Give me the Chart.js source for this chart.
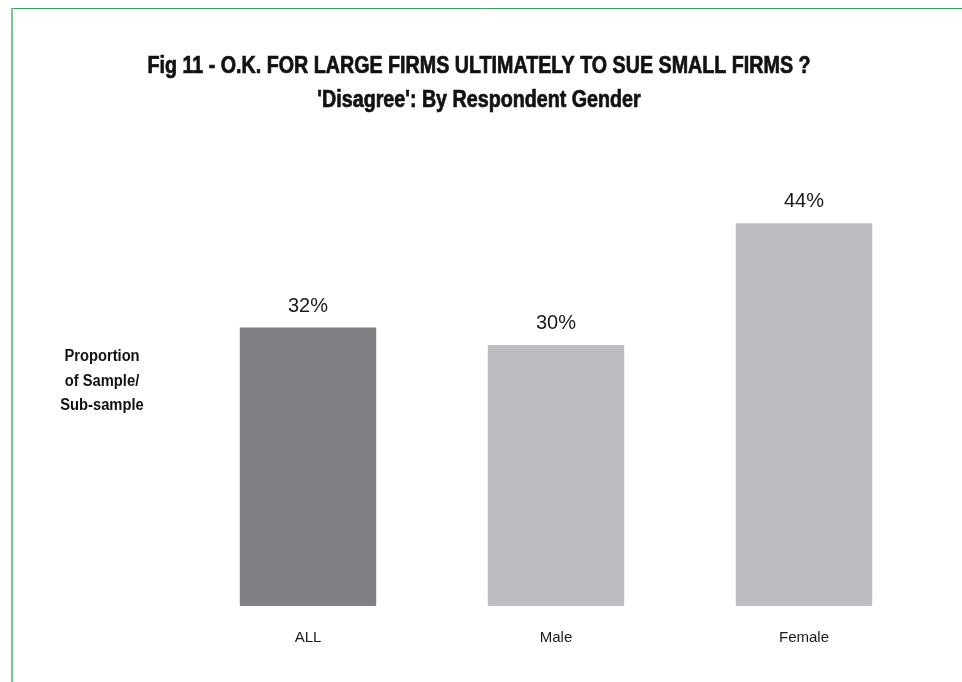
<!DOCTYPE html>
<html>
<head>
<meta charset="utf-8">
<title>Fig 11 - Disagree by Respondent Gender</title>
<script src="https://cdn.jsdelivr.net/npm/chart.js@4/dist/chart.umd.min.js"></script>
<style>
  html, body { margin:0; padding:0; background:#fff; }
  #wrap { position:relative; width:962px; height:682px; }
</style>
</head>
<body>
<div id="wrap"><canvas id="chartGender"></canvas></div>
<script>
// ---- data ----
const categories  = ['ALL', 'Male', 'Female'];
const disagreePct = [32, 30, 44];
const barColors   = ['#818185', '#bcbdc1', '#bcbdc1'];
const titleLines  = ['Fig 11 - O.K. FOR LARGE FIRMS ULTIMATELY TO SUE SMALL FIRMS ?',
                     "'Disagree': By Respondent Gender"];
const yLabelLines = ['Proportion', 'of Sample/', 'Sub-sample'];

const SANS = "'Liberation Sans', Arial, Helvetica, sans-serif";

// draws text narrowed horizontally (stand-in for a condensed face)
function narrowText(ctx, text, x, y, sx, stroke) {
  ctx.save();
  ctx.translate(x, y);
  ctx.scale(sx, 1);
  if (stroke) ctx.strokeText(text, 0, 0);
  ctx.fillText(text, 0, 0);
  ctx.restore();
}

// frame, title, side label and value labels
const decorations = {
  id: 'decorations',
  beforeDraw(chart) {
    const { ctx, width, height } = chart;
    ctx.save();
    ctx.lineWidth = 1;
    ctx.strokeStyle = '#3aa05a';
    ctx.beginPath(); ctx.moveTo(11, 8.5); ctx.lineTo(width, 8.5); ctx.stroke();
    ctx.lineWidth = 2;
    ctx.strokeStyle = '#74c693';
    ctx.beginPath(); ctx.moveTo(12, 8); ctx.lineTo(12, height); ctx.stroke();
    ctx.restore();
  },
  afterDatasetsDraw(chart) {
    const { ctx } = chart;
    ctx.save();
    ctx.fillStyle = '#111';
    ctx.strokeStyle = '#111';
    ctx.lineWidth = 0.7;
    ctx.textAlign = 'center';
    ctx.textBaseline = 'alphabetic';

    // title
    ctx.font = `bold 23px ${SANS}`;
    const sx = Math.min(1, 663 / ctx.measureText(titleLines[0]).width);
    titleLines.forEach((line, i) => narrowText(ctx, line, 479, 73 + i * 34, sx, true));

    // side label
    ctx.font = `bold 16px ${SANS}`;
    yLabelLines.forEach((line, i) => narrowText(ctx, line, 102, 361 + i * 24.5, 0.92, false));

    // value labels above the bars
    ctx.font = `20px ${SANS}`;
    ctx.fillStyle = '#1a1a1a';
    chart.getDatasetMeta(0).data.forEach((bar, i) => {
      ctx.fillText(disagreePct[i] + '%', bar.x, bar.y - 16);
    });
    ctx.restore();
  }
};

new Chart(document.getElementById('chartGender'), {
  type: 'bar',
  data: {
    labels: categories,
    datasets: [{
      data: disagreePct,
      backgroundColor: barColors,
      borderWidth: 0,
      barPercentage: 0.55,
      categoryPercentage: 1
    }]
  },
  options: {
    responsive: true, maintainAspectRatio: false, animation: false,
    layout: { padding: { left: 184, right: 34, top: 171, bottom: 36 } },
    plugins: { legend: { display: false }, tooltip: { enabled: false } },
    scales: {
      x: {
        grid: { display: false, drawTicks: false },
        border: { display: false },
        ticks: { color: '#1a1a1a', padding: 23, font: { family: SANS, size: 15 } },
        afterFit(s) { s.height = 40; }
      },
      y: { display: false, min: 0, max: 50 }
    }
  },
  plugins: [decorations]
});
</script>
</body>
</html>
